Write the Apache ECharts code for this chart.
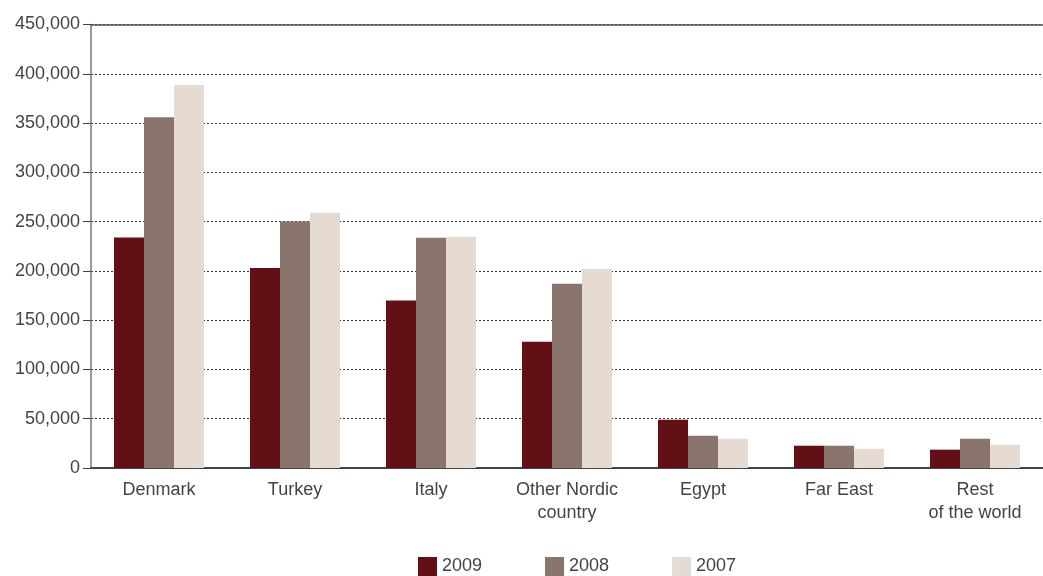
<!DOCTYPE html>
<html>
<head>
<meta charset="utf-8">
<script src="https://cdn.jsdelivr.net/npm/echarts@6/dist/echarts.min.js"></script>
<style>
  html, body { margin: 0; padding: 0; background: #fff; }
  #chart { width: 1043px; height: 576px; }
</style>
</head>
<body>
<div id="chart"></div>
<script>
// Regions and yearly figures
const categories = ['Denmark', 'Turkey', 'Italy', 'Other Nordic\ncountry', 'Egypt', 'Far East', 'Rest\nof the world'];
const years = ['2009', '2008', '2007'];
const values2009 = [234000, 203000, 170000, 128000, 49000, 22600, 18600];
const values2008 = [356000, 250000, 233600, 187000, 32800, 22600, 29700];
const values2007 = [388700, 259000, 234600, 202000, 29700, 19600, 23600];
const colors = ['#621016', '#89756b', '#e6dbd2'];

const fontFamily = '"Liberation Sans", Arial, sans-serif';
const chart = echarts.init(document.getElementById('chart'), null, { renderer: 'canvas' });

const seriesData = [values2009, values2008, values2007];

chart.setOption({
  animation: false,
  textStyle: { fontFamily },
  grid: { left: 91, right: 0, top: 24.5, bottom: 108, containLabel: false },
  legend: {
    top: 557,
    left: 418,
    padding: 0,
    itemWidth: 19,
    itemHeight: 19,
    itemGap: 63,
    icon: 'rect',
    textStyle: { fontSize: 18, color: '#444', fontFamily },
    data: years
  },
  xAxis: [
    {
      type: 'category',
      data: categories,
      axisLine: { lineStyle: { color: '#444', width: 2 } },
      axisTick: { show: false },
      axisLabel: { color: '#444', fontSize: 18, margin: 11, lineHeight: 23, interval: 0 }
    },
    {
      // solid top border of the plot
      type: 'category',
      position: 'top',
      data: categories,
      axisLine: { lineStyle: { color: '#555', width: 1.5 } },
      axisTick: { show: false },
      axisLabel: { show: false }
    }
  ],
  yAxis: {
    type: 'value',
    min: 0,
    max: 450000,
    interval: 50000,
    axisLine: { show: true, lineStyle: { color: '#777', width: 1.5 } },
    axisTick: { show: true, length: 8, lineStyle: { color: '#444' } },
    axisLabel: {
      color: '#444',
      fontSize: 18,
      margin: 11,
      formatter: v => v.toLocaleString('en-US')
    },
    splitLine: { show: true, lineStyle: { color: '#333', type: [2, 2], width: 1 } }
  },
  series: years.map((name, i) => ({
    name,
    type: 'bar',
    data: seriesData[i],
    barWidth: 30,
    barGap: '0%',
    itemStyle: { color: colors[i] }
  }))
});
</script>
</body>
</html>
